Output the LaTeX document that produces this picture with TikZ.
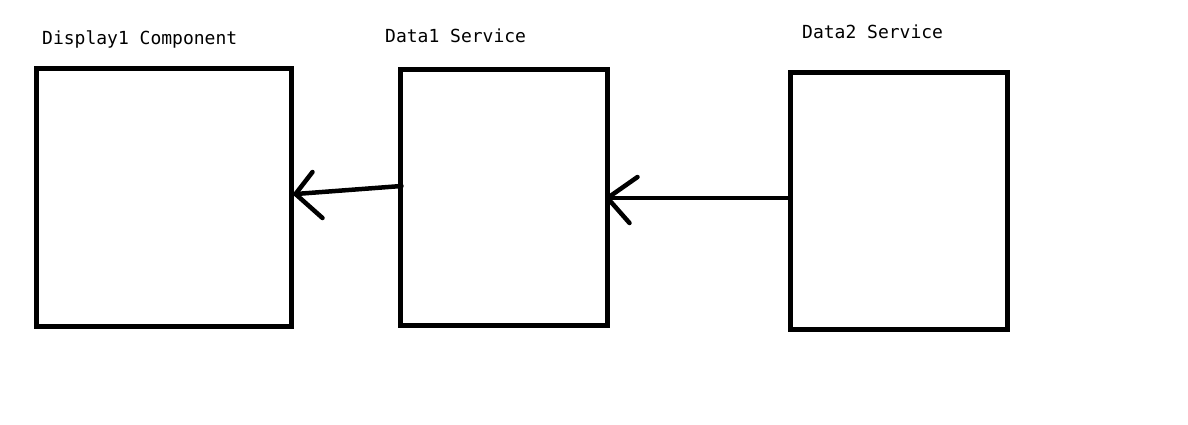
\documentclass[tikz,border=0pt]{standalone}
\usepackage{fontspec}
\setmonofont{DejaVu Sans Mono}
\usetikzlibrary{positioning}

\begin{document}
\begin{tikzpicture}[x=1pt,y=-1pt,
  box/.style={draw,line width=5pt,rectangle,inner sep=0pt,minimum width=#1},
  lbl/.style={anchor=base west,inner sep=0pt,font=\ttfamily\fontsize{18}{20}\selectfont},
  stroke/.style={line width=4.5pt,line cap=round}]
% Page frame
  \useasboundingbox (0,0) rectangle (1188,424);
% Display1 component box
  \node[box=255pt,minimum height=258pt] (disp1) at (163.5,197) {};
  \node[lbl] (disp1lbl) at (42,44) {Display1 Component};
% Data1 service box
  \node[box=207pt,minimum height=256pt] (data1) at (503.5,197) {};
  \node[lbl] (data1lbl) at (385,42) {Data1 Service};
% Data2 service box
  \node[box=217pt,minimum height=257pt] (data2) at (898.5,200.5) {};
  \node[lbl] (data2lbl) at (802,38) {Data2 Service};
% Arrow data1 -> display1
  \draw[stroke] ([xshift=4pt,yshift=11pt]data1.west) -- ([xshift=2pt,yshift=3pt]disp1.east) coordinate (tipA);
  \draw[stroke] (tipA) -- +(17,-22);
  \draw[stroke] (tipA) -- +(27,24);
% Arrow data2 -> data1
  \draw[stroke] ([yshift=2.5pt]data2.west) -- ([xshift=-2pt,yshift=-1pt]data1.east) coordinate (tipB);
  \draw[stroke] (tipB) -- +(30,-21);
  \draw[stroke] (tipB) -- +(22,25);
\end{tikzpicture}
\end{document}
